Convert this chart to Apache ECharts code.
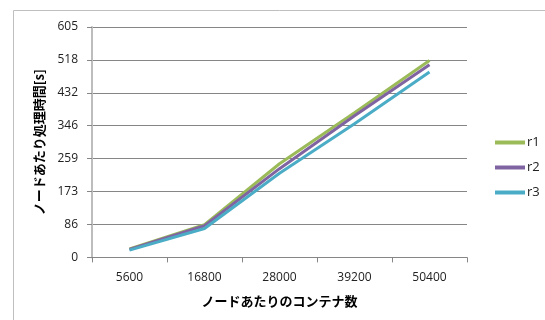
<!DOCTYPE html>
<html>
<head>
<meta charset="utf-8">
<title>ノードあたり処理時間</title>
<script src="https://cdn.jsdelivr.net/npm/echarts@6/dist/echarts.min.js"></script>
<style>
    html, body { margin:0; padding:0; background:#fff; }
    #chart { width:545px; height:320px; }
</style>
</head>
<body>
<div id="chart"></div>
<script>
// x軸カテゴリ
var categories = ['5600', '16800', '28000', '39200', '50400'];
// 各系列の値
var r1 = [22, 86, 246, 380, 517];
var r2 = [21, 83, 233, 372, 506];
var r3 = [19, 76, 221, 351, 487];
// y軸目盛ラベル
var yTicks = [0, 86, 173, 259, 346, 432, 518, 605];

var yMax = 605;
var yStep = yMax / 7;

var chart = echarts.init(document.getElementById('chart'));
var labelFont = 'Open Sans, Liberation Sans, sans-serif';
var jpFont = 'Noto Sans CJK JP';

var option = {
    backgroundColor: '#fff',
    animation: false,
    color: ['#9BBB59', '#8064A2', '#4BACC6'],
    graphic: [{
        type: 'rect',
        shape: { x: 13.5, y: 10.5, width: 600, height: 400 },
        style: { fill: 'none', stroke: '#BFBFBF', lineWidth: 1 },
        silent: true
    }],
    legend: {
        orient: 'vertical',
        left: 490,
        top: 131,
        itemWidth: 30,
        itemHeight: 4,
        itemGap: 12,
        icon: 'rect',
        textStyle: { fontFamily: labelFont, fontSize: 13, color: '#222', padding: [0, 0, 0, -3] },
        data: ['r1', 'r2', 'r3']
    },
    grid: {
        left: 92,
        right: 78,
        top: 27,
        bottom: 62.6
    },
    xAxis: {
        type: 'category',
        data: categories,
        boundaryGap: true,
        name: 'ノードあたりのコンテナ数',
        nameLocation: 'middle',
        nameGap: 37,
        nameTextStyle: { fontFamily: jpFont, fontWeight: 'bold', fontSize: 13, color: '#000' },
        axisLine: { lineStyle: { color: '#868686', width: 1 } },
        axisTick: { show: true, length: 5, lineStyle: { color: '#868686' } },
        axisLabel: { margin: 14, fontFamily: labelFont, fontSize: 12, color: '#222' },
        splitLine: { show: false }
    },
    yAxis: {
        type: 'value',
        min: 0,
        max: yMax,
        interval: yStep,
        name: 'ノードあたり処理時間[s]',
        nameLocation: 'middle',
        nameRotate: 90,
        nameGap: 46,
        nameTextStyle: { fontFamily: jpFont, fontWeight: 'bold', fontSize: 13, color: '#000' },
        axisLine: { show: true, lineStyle: { color: '#BDBDBD', width: 2 } },
        axisTick: { show: true, length: 5, lineStyle: { color: '#868686' } },
        axisLabel: {
            margin: 14,
            fontFamily: labelFont,
            fontSize: 12,
            color: '#222',
            formatter: function (v) {
                var i = Math.round(v / yStep);
                return yTicks[i] !== undefined ? String(yTicks[i]) : '';
            }
        },
        splitLine: { show: true, lineStyle: { color: '#868686', width: 1 } }
    },
    series: [
        { name: 'r1', type: 'line', data: r1, symbol: 'none', lineStyle: { width: 3 } },
        { name: 'r2', type: 'line', data: r2, symbol: 'none', lineStyle: { width: 3 } },
        { name: 'r3', type: 'line', data: r3, symbol: 'none', lineStyle: { width: 3 } }
    ]
};

chart.setOption(option);
</script>
</body>
</html>
